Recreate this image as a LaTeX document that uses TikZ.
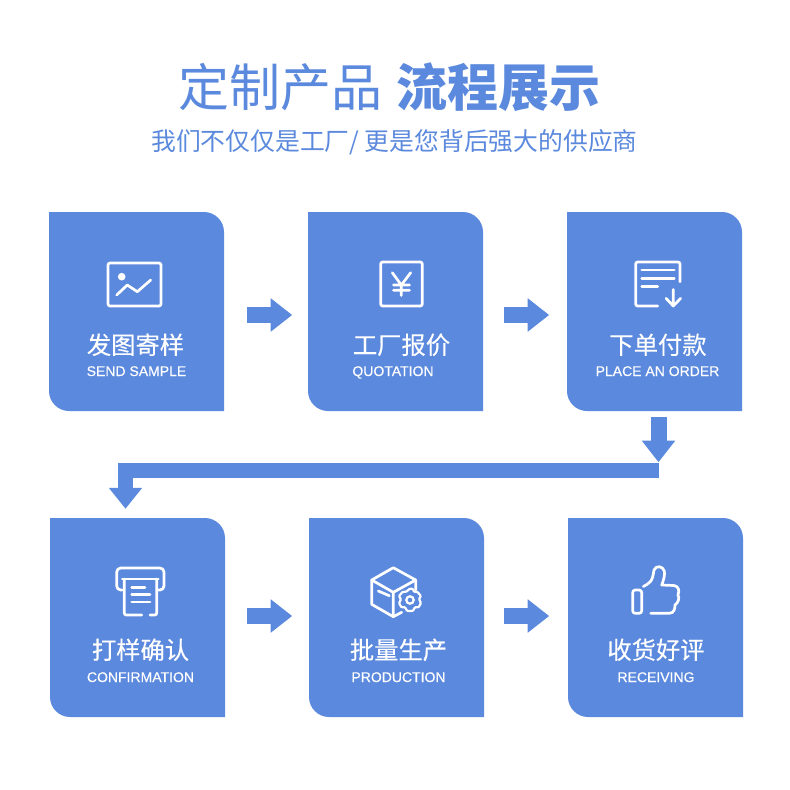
\documentclass[tikz,border=0pt]{standalone}
\usepackage{fontspec}
\setmainfont{Noto Sans CJK SC}
\newfontfamily\latinf[FakeBold=0.25]{Liberation Sans}
\newfontfamily\cnlab[FakeBold=0.2]{Noto Sans CJK SC}
\usetikzlibrary{arrows.meta}
\definecolor{cardblue}{HTML}{5B89DD}
\tikzset{
  x=1pt,y=-1pt,
  cardbase/.style={fill=cardblue},
  cardnode/.style={minimum width=175pt,minimum height=199pt,inner sep=0pt},
  flow/.style={draw=cardblue,line width=16pt,-{Triangle[length=21.5pt,width=32pt]}},
  flowbent/.style={draw=cardblue,line width=15pt,miter limit=10,-{Triangle[length=21pt,width=32pt]}},
  ico/.style={draw=white,line width=2.7pt,line cap=round,line join=round},
  titletext/.style={inner sep=0pt,anchor=base,text=cardblue,font=\fontsize{51pt}{51pt}\selectfont},
  subtext/.style={inner sep=0pt,anchor=base,text=cardblue,font=\fontsize{24.8pt}{25pt}\selectfont},
  cnlabel/.style={inner sep=0pt,anchor=base,text=white,font=\cnlab\fontsize{24.3pt}{25pt}\selectfont},
  enlabel/.style={inner sep=0pt,anchor=base,text=white,font=\latinf\fontsize{14pt}{14pt}\selectfont},
}
\newcommand{\cardat}[3]{%
  \fill[cardbase] (#2,#3) -- (#2+155,#3) .. controls (#2+166,#3) and (#2+175,#3+9) .. (#2+175,#3+20) -- (#2+175,#3+199) -- (#2+20,#3+199) .. controls (#2+9,#3+199) and (#2,#3+190) .. (#2,#3+179) -- cycle;
  \node[cardnode] (#1) at (#2+87.5,#3+99.5) {};
}
\begin{document}
\begin{tikzpicture}
\useasboundingbox (0,0) rectangle (790,790);
\fill[white] (0,0) rectangle (790,790);

\node[titletext] (t1) at (280,106) {定制产品};
\node[titletext,font=\fontsize{51pt}{51pt}\selectfont\bfseries] (t2) at (498,106) {流程展示};
\node[subtext] (t3) at (394.5,150) {我们不仅仅是工厂/ 更是您背后强大的供应商};

\cardat{c1}{49}{212}
\cardat{c2}{308}{212}
\cardat{c3}{567}{212}
\cardat{c4}{50}{518}
\cardat{c5}{309}{518}
\cardat{c6}{568}{518}

\draw[flow] ([xshift=23pt,yshift=-3.5pt]c1.east) -- ([xshift=68pt,yshift=-3.5pt]c1.east);
\draw[flow] ([xshift=21pt,yshift=-3.5pt]c2.east) -- ([xshift=66pt,yshift=-3.5pt]c2.east);
\draw[flow] ([xshift=22pt,yshift=1.5pt]c4.east) -- ([xshift=67pt,yshift=1.5pt]c4.east);
\draw[flow] ([xshift=20pt,yshift=1.5pt]c5.east) -- ([xshift=65pt,yshift=1.5pt]c5.east);
\draw[flow] ([xshift=4pt,yshift=-6pt]c3.south) -- ([xshift=4pt,yshift=-51pt]c3.south);
\coordinate (bendstart) at ([xshift=4.5pt,yshift=-59.5pt]c3.south);
\draw[flowbent] (bendstart) -| ([xshift=-12pt,yshift=9pt]c4.north);

\node[cnlabel] (l1) at (135.5,354) {发图寄样};
\node[enlabel] (e1) at (136.5,376) {SEND SAMPLE};
\node[cnlabel] (l2) at (401.5,354) {工厂报价};
\node[enlabel] (e2) at (393,376) {QUOTATION};
\node[cnlabel] (l3) at (658,354) {下单付款};
\node[enlabel] (e3) at (657.5,376) {PLACE AN ORDER};
\node[cnlabel] (l4) at (140.5,659) {打样确认};
\node[enlabel] (e4) at (140.5,682) {CONFIRMATION};
\node[cnlabel] (l5) at (398.5,659) {批量生产};
\node[enlabel] (e5) at (398.5,682) {PRODUCTION};
\node[cnlabel] (l6) at (656,659) {收货好评};
\node[enlabel] (e6) at (656,682) {RECEIVING};

% picture icon
\draw[ico,rounded corners=2pt] (108,263) rectangle (161,306);
\fill[white] (121.7,276.7) circle (3.8pt);
\draw[ico] (116.7,295) -- (127.3,285) -- (137.3,291.7) -- (150.7,280);
% yen icon
\draw[ico,rounded corners=2pt] (380.7,262) rectangle (422.3,306);
\draw[ico] (392.3,272.7) -- (401.3,285) -- (410.7,272.7) (401.3,285) -- (401.3,295.5) (393.5,285) -- (409.5,285) (393.5,290.3) -- (409.5,290.3);
% document icon
\draw[ico,rounded corners=2pt] (680,281.7) -- (680,262) -- (635.7,262) -- (635.7,306) -- (657.7,306);
\draw[ico] (641.7,270) -- (674.3,270) (641.7,278.3) -- (674.3,278.3) (641.7,286.7) -- (657.7,286.7);
\draw[ico] (673.3,289.5) -- (673.3,306) (666,298.3) -- (673.3,306) -- (680.7,298.3);
% printer icon
\draw[ico,rounded corners=4pt] (122,590) -- (116.7,590) -- (116.7,568) -- (164,568) -- (164,590) -- (158.5,590);
\draw[ico] (122.3,579) -- (158.3,579);
\draw[ico,rounded corners=2pt] (141.7,615) -- (124.3,615) -- (124.3,579);
\draw[ico,rounded corners=2pt] (156.7,579) -- (156.7,615) -- (150,615);
\draw[ico] (131.7,587.3) -- (145,587.3) (131.7,594.7) -- (150,594.7) (131.7,602) -- (150,602);
% box icon
\draw[ico] (415.7,590) -- (415.7,580) -- (393.3,567.7) -- (371.7,580) -- (371.7,604.3) -- (393.3,616.7) -- (401.7,612.3);
\draw[ico] (371.7,580) -- (393.3,592.3) -- (415.7,580) (393.3,592.3) -- (393.3,616.7);
\draw[ico] (378.3,591) -- (389.3,595.7);
\draw[white,line width=2.2pt,line join=round,rounded corners=1pt] (410,588.5) -- (413,588.8) -- (414,592) -- (417,591.5) -- (421,596) -- (419,599) -- (421,603) -- (418.5,607.5) -- (415,607) -- (413,611) -- (407,611) -- (405,607) -- (401.5,607.5) -- (399,603) -- (401,599.5) -- (399,596) -- (403,591.5) -- (406,592) -- cycle;
\draw[white,line width=2.2pt] (410,600) circle (3.7pt);
% thumb icon
\draw[ico,rounded corners=2.5pt] (632.7,590) rectangle (641.7,613.3);
\draw[ico] (650.7,613.3) -- (669,613.3) .. controls (674,613.3) and (675,609) .. (675,605) .. controls (678,603) and (680,598) .. (678,595) .. controls (680,590) and (678,586) .. (674,585.5) -- (661.7,585) .. controls (664,579) and (665,575) .. (664.3,571) .. controls (663,566) and (656,565) .. (654,570) .. controls (653,577) and (652,580) .. (650,582) .. controls (648,584) and (646,585) .. (643.3,586.5);
\end{tikzpicture}
\end{document}
